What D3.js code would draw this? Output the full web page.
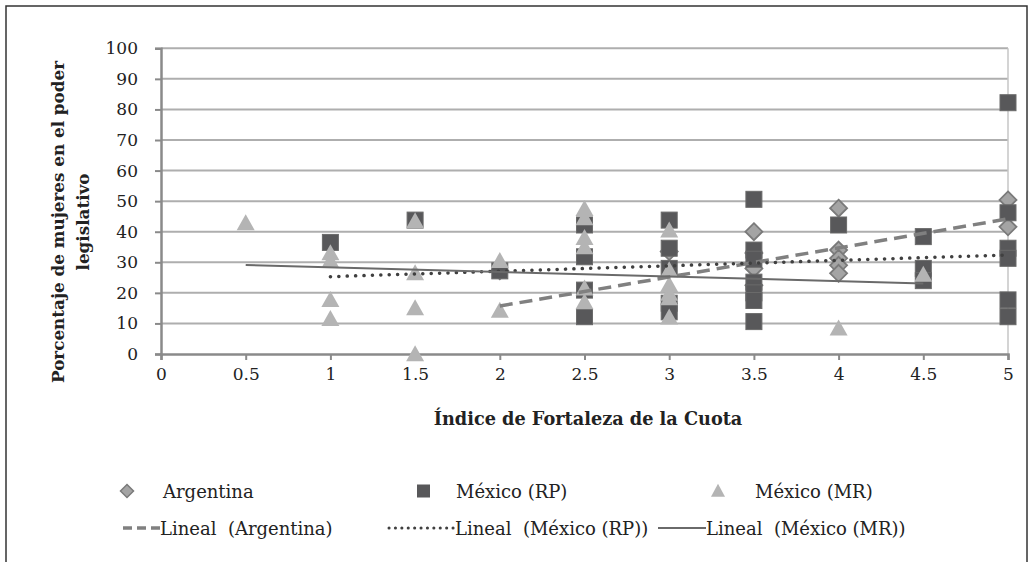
<!DOCTYPE html>
<html><head><meta charset="utf-8">
<script src="https://cdn.jsdelivr.net/npm/d3@7"></script>
<style>body{margin:0;background:#fff}svg{display:block}</style>
</head><body>
<svg id="c" width="1035" height="562"></svg>
<script>
const argentina = [[2,27.2],[3,33.5],[3.5,40],[3.5,33],[3.5,28],[3.5,22.5],[4,47.7],[4,34],[4,31.3],[4,29],[4,26.4],[5,50.4],[5,41.6]];
const mexicoRP = [[1,36.5],[1.5,43.8],[2,27.2],[2.5,42.2],[2.5,31.8],[2.5,20.9],[2.5,12.2],[3,43.8],[3,34.6],[3,28],[3,16.6],[3,13.8],[3.5,50.6],[3.5,34],[3.5,31],[3.5,23.5],[3.5,20],[3.5,17.5],[3.5,10.6],[4,42.2],[4.5,38.4],[4.5,28],[4.5,24],[5,82.2],[5,46.2],[5,34.6],[5,31.3],[5,17.7],[5,12.2]];
const mexicoMR = [[0.5,42.8],[1,33],[1,30.5],[1,17.7],[1,11.5],[1.5,43.5],[1.5,26.5],[1.5,15],[1.5,0],[2,30.5],[2,14.2],[2.5,47.5],[2.5,44.5],[2.5,38],[2.5,35],[2.5,21.5],[2.5,17],[3,40.5],[3,27.5],[3,22.6],[3,19.8],[3,18.3],[3,12],[4,8.4],[4.5,26]];
const trendArgentina = [[2,15.7],[5,44.2]];
const trendRP = [[1,25.3],[5,32.4]];
const trendMR = [[0.5,29.1],[4.5,23.1]];
const xTicks = [0,0.5,1,1.5,2,2.5,3,3.5,4,4.5,5];
const yTicks = [0,10,20,30,40,50,60,70,80,90,100];
const xTitle = "Índice de Fortaleza de la Cuota";
const yTitle = ["Porcentaje de mujeres en el poder","legislativo"];
const legendRow1 = ["Argentina","México (RP)","México (MR)"];
const legendRow2 = ["Lineal  (Argentina)","Lineal  (México (RP))","Lineal  (México (MR))"];

const FONT = "'DejaVu Serif', 'Liberation Serif', 'Noto Serif', serif";
const svg = d3.select("#c").attr("font-family", FONT);
svg.append("rect").attr("x",6).attr("y",6).attr("width",1021).attr("height",570)
  .attr("fill","none").attr("stroke","#333").attr("stroke-width",1.5);

const x = d3.scaleLinear().domain([0,5]).range([161,1008]);
const y = d3.scaleLinear().domain([0,100]).range([354,48.3]);

svg.append("g").selectAll("line").data(yTicks.filter(d=>d>0)).join("line")
  .attr("x1",x(0)).attr("x2",x(5)).attr("y1",d=>y(d)).attr("y2",d=>y(d))
  .attr("stroke","#aeaeae").attr("stroke-width",2);
svg.append("line").attr("x1",x(5)).attr("x2",x(5)).attr("y1",y(100)).attr("y2",y(0))
  .attr("stroke","#c6c6c6").attr("stroke-width",1.5);

const yAxis = svg.append("g").attr("transform",`translate(${x(0)},0)`)
  .call(d3.axisLeft(y).tickValues(yTicks).tickSize(6).tickPadding(17).tickFormat(d3.format("d")));
const xAxis = svg.append("g").attr("transform",`translate(0,${y(0)})`)
  .call(d3.axisBottom(x).tickValues(xTicks).tickSize(6).tickPadding(8).tickFormat(d=>String(d)));
[yAxis,xAxis].forEach(a=>{
  a.attr("font-family",FONT).attr("font-size",17);
  a.select(".domain").attr("stroke","#8a8a8a").attr("stroke-width",2.5);
  a.selectAll(".tick line").attr("stroke","#8a8a8a").attr("stroke-width",2);
  a.selectAll("text").attr("fill","#222");
});

const diamond = (cx,cy,r)=>`M${cx},${cy-r}L${cx+r},${cy}L${cx},${cy+r}L${cx-r},${cy}Z`;
const tri = (cx,cy,w,h)=>`M${cx},${cy-h*0.55}L${cx+w/2},${cy+h*0.45}L${cx-w/2},${cy+h*0.45}Z`;
svg.append("g").selectAll("path").data(argentina).join("path")
  .attr("d",d=>diamond(x(d[0]),y(d[1]),8.5)).attr("fill","#a4a4a4").attr("stroke","#7a7a7a").attr("stroke-width",1.8);
svg.append("g").selectAll("rect").data(mexicoRP).join("rect")
  .attr("x",d=>x(d[0])-8).attr("y",d=>y(d[1])-8).attr("width",16).attr("height",16)
  .attr("fill","#58585a").attr("stroke","#6a6a6a").attr("stroke-width",1);
svg.append("g").selectAll("path").data(mexicoMR).join("path")
  .attr("d",d=>tri(x(d[0]),y(d[1]),18,16)).attr("fill","#b4b4b4");

const line = d3.line().x(d=>x(d[0])).y(d=>y(d[1]));
svg.append("path").attr("d",line(trendArgentina)).attr("fill","none")
  .attr("stroke","#808080").attr("stroke-width",3.5).attr("stroke-dasharray","13,7");
svg.append("path").attr("d",line(trendRP)).attr("fill","none")
  .attr("stroke","#404040").attr("stroke-width",3.5).attr("stroke-linecap","round").attr("stroke-dasharray","0.1,8.3");
svg.append("path").attr("d",line(trendMR)).attr("fill","none")
  .attr("stroke","#6a6a6a").attr("stroke-width",2);

svg.append("text").attr("x",588).attr("y",425).attr("text-anchor","middle").attr("fill","#222")
  .attr("font-size",17.7).attr("font-weight","bold").text(xTitle);
yTitle.forEach((t,i)=>{
  svg.append("text").attr("transform",`translate(${64+i*25},222) rotate(-90)`).attr("text-anchor","middle")
    .attr("fill","#222").attr("font-size",16.8).attr("font-weight","bold").text(t);
});

const lg = svg.append("g");
const r1y = 491, r2y = 528;
lg.append("path").attr("d",diamond(127,r1y,6.5)).attr("fill","#a4a4a4").attr("stroke","#7a7a7a").attr("stroke-width",1.5);
lg.append("rect").attr("x",417).attr("y",r1y-6.5).attr("width",13).attr("height",13).attr("fill","#58585a");
lg.append("path").attr("d",tri(718,r1y,14,13)).attr("fill","#b4b4b4");
[163,456,755].forEach((tx,i)=>{
  lg.append("text").attr("x",tx).attr("y",r1y+7).attr("fill","#222").attr("font-size",18).text(legendRow1[i]);
});
lg.append("line").attr("x1",123).attr("x2",160).attr("y1",r2y).attr("y2",r2y)
  .attr("stroke","#808080").attr("stroke-width",3.5).attr("stroke-dasharray","9,5");
lg.append("line").attr("x1",389).attr("x2",455).attr("y1",r2y).attr("y2",r2y)
  .attr("stroke","#404040").attr("stroke-width",3).attr("stroke-linecap","round").attr("stroke-dasharray","0.1,6.3");
lg.append("line").attr("x1",658).attr("x2",706).attr("y1",r2y).attr("y2",r2y)
  .attr("stroke","#6a6a6a").attr("stroke-width",2);
[160,455,706].forEach((tx,i)=>{
  lg.append("text").attr("x",tx).attr("y",r2y+7).attr("fill","#222").attr("font-size",18).attr("xml:space","preserve").style("white-space","pre").text(legendRow2[i]);
});
</script>
</body></html>
